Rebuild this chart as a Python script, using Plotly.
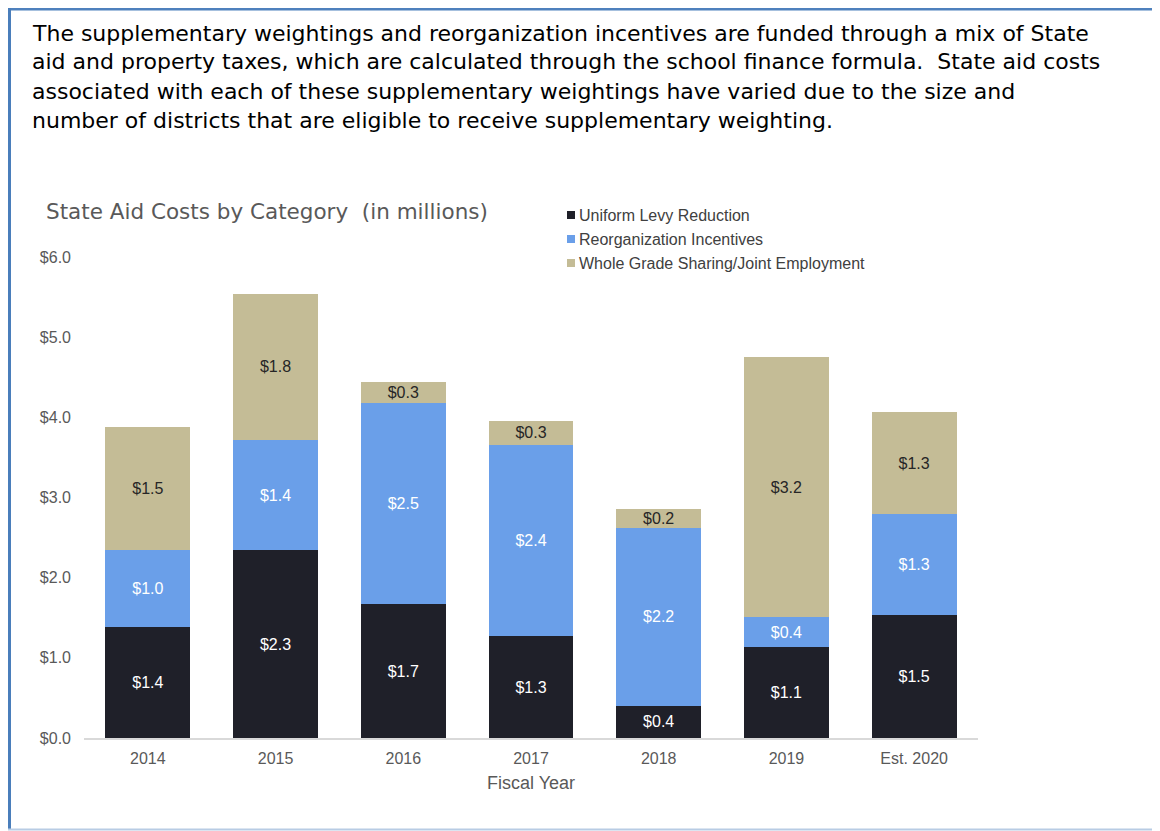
import plotly.graph_objects as go

# ---------------- data ----------------
years = ["2014", "2015", "2016", "2017", "2018", "2019", "Est. 2020"]
series_names = ["Uniform Levy Reduction", "Reorganization Incentives",
                "Whole Grade Sharing/Joint Employment"]
uniform_levy = [1.38, 2.34, 1.67, 1.27, 0.40, 1.13, 1.53]
reorganization = [0.96, 1.38, 2.51, 2.39, 2.22, 0.38, 1.26]
whole_grade = [1.54, 1.82, 0.26, 0.30, 0.24, 3.24, 1.28]
y_ticks = [0, 1, 2, 3, 4, 5, 6]
y_tick_labels = ["$0.0", "$1.0", "$2.0", "$3.0", "$4.0", "$5.0", "$6.0"]

paragraph = [
    "The supplementary weightings and reorganization incentives are funded through a mix of State",
    "aid and property taxes, which are calculated through the school finance formula.  State aid costs",
    "associated with each of these supplementary weightings have varied due to the size and",
    "number of districts that are eligible to receive supplementary weighting.",
]
chart_title = "State Aid Costs by Category  (in millions)"
x_title = "Fiscal Year"

# ---------------- style / geometry ----------------
OFF = 8                      # page offset of the figure (body margin)
W, H = 1160 - OFF, 831 - OFF
PLOT_L, PLOT_R, PLOT_T, PLOT_B = 84, 978, 257, 738   # screen pixels
L, T = PLOT_L - OFF, PLOT_T - OFF
R, B = W - (PLOT_R - OFF), H - (PLOT_B - OFF)
PW, PH = W - L - R, H - T - B
FONT = "Liberation Sans, Arial, sans-serif"
WIDE = "DejaVu Sans, Liberation Sans, sans-serif"
colors = ["#1f2029", "#6a9fe9", "#c4bc96"]
text_colors = ["#ffffff", "#ffffff", "#262626"]


def px(x):
    return (x - PLOT_L) / PW


def py(y):
    return (PLOT_B - y) / PH


fig = go.Figure()
for name, vals, c, tc in zip(series_names, [uniform_levy, reorganization, whole_grade],
                             colors, text_colors):
    fig.add_trace(go.Bar(
        x=years, y=vals, name=name,
        marker=dict(color=c, line=dict(width=0)),
        texttemplate="$%{y:.1f}", textposition="inside",
        insidetextanchor="middle",
        textfont=dict(family=FONT, size=16, color=tc),
        showlegend=False,
    ))

annotations = []
for i, line in enumerate(paragraph):
    annotations.append(dict(
        text=line, xref="paper", yref="paper", x=px(30), y=py(33 + 29 * i),
        xanchor="left", yanchor="middle", showarrow=False,
        font=dict(family=WIDE, size=22, color="#000000"),
    ))
annotations.append(dict(
    text=chart_title, xref="paper", yref="paper", x=px(44), y=py(211),
    xanchor="left", yanchor="middle", showarrow=False,
    font=dict(family=WIDE, size=21.5, color="#595959"),
))

shapes = []
for i, (name, c) in enumerate(zip(series_names, colors)):
    yc = 215 + 24 * i
    shapes.append(dict(type="rect", xref="paper", yref="paper",
                       x0=px(567), x1=px(575), y0=py(yc - 4), y1=py(yc + 4),
                       fillcolor=c, line=dict(width=0)))
    annotations.append(dict(
        text=name, xref="paper", yref="paper", x=px(577), y=py(yc),
        xanchor="left", yanchor="middle", showarrow=False,
        font=dict(family=FONT, size=16, color="#404040"),
    ))

# page border (drawn at the visible edge of the figure)
EDGE = OFF
shapes += [
    dict(type="line", xref="paper", yref="paper", x0=px(EDGE), x1=px(1158),
         y0=py(EDGE + 1.25), y1=py(EDGE + 1.25), line=dict(color="#4f81bd", width=2.5)),
    dict(type="line", xref="paper", yref="paper", x0=px(EDGE + 1.5), x1=px(EDGE + 1.5),
         y0=py(EDGE), y1=py(830), line=dict(color="#4a7ebb", width=3)),
    dict(type="line", xref="paper", yref="paper", x0=px(1157), x1=px(1157),
         y0=py(EDGE), y1=py(830), line=dict(color="#b8cce4", width=1.5)),
    dict(type="line", xref="paper", yref="paper", x0=px(EDGE), x1=px(1158),
         y0=py(829.5), y1=py(829.5), line=dict(color="#b8cce4", width=2)),
]

fig.update_layout(
    width=W, height=H,
    margin=dict(l=L, r=R, t=T, b=B, pad=0),
    barmode="stack", bargap=0.335,
    plot_bgcolor="white", paper_bgcolor="white",
    font=dict(family=FONT, color="#595959"),
    uniformtext=dict(minsize=16, mode="show"),
    annotations=annotations, shapes=shapes,
    xaxis=dict(
        showline=True, linecolor="#d9d9d9", linewidth=1.5,
        showgrid=False, ticks="", ticklabelstandoff=5,
        tickfont=dict(family=FONT, size=16, color="#595959"),
        title=dict(text=x_title, font=dict(family=FONT, size=18, color="#595959"), standoff=10),
    ),
    yaxis=dict(
        range=[0, 6], tickvals=y_ticks, ticktext=y_tick_labels,
        showline=False, showgrid=False, zeroline=False, ticks="",
        ticklabelstandoff=12,
        tickfont=dict(family=FONT, size=16, color="#595959"),
    ),
)

fig.write_html("out.html")
